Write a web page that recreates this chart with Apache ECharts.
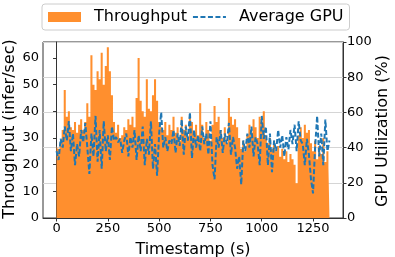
<!DOCTYPE html>
<html>
<head>
<meta charset="utf-8">
<script src="https://cdn.jsdelivr.net/npm/echarts@6/dist/echarts.min.js"></script>
<style>html,body{margin:0;padding:0;background:#fff;}#c{width:395px;height:257px;}</style>
</head>
<body>
<div id="c"></div>
<script>
const TIME_START = 0;
const TIME_STEP = 10;
const throughput = [27,26,28,33,48,38,40,34,33,36,32,35,37,33,36,43,38,61,50,48,55,52,62,50,57,64,55,46,36,32,35,30,31,34,33,37,35,38,34,45,60,44,40,38,52,41,40,46,52,44,36,34,33,36,31,35,33,38,32,34,29,38,33,35,30,38,36,32,35,31,43,35,30,36,33,29,35,42,36,38,33,30,34,28,45,38,35,37,34,30,26,29,25,31,35,32,37,34,30,38,36,40,31,28,30,26,29,25,27,23,26,22,25,21,24,22,20,13,31,34,30,35,32,33,28,25,29,22,27,24,30,21,25,19];
const gpu = [38,33,45,40,52,44,55,38,48,30,42,35,50,43,54,40,25,48,35,58,32,50,28,55,38,47,33,52,44,46,43,45,37,44,48,35,46,40,50,33,47,38,52,30,45,36,55,28,42,24,48,60,40,46,38,44,42,50,37,48,41,56,36,52,44,60,34,50,40,47,38,52,42,48,36,55,30,22,46,40,50,37,48,42,54,36,46,40,28,35,19,44,38,48,40,52,35,46,42,30,58,45,52,30,48,26,44,38,50,40,47,35,46,39,50,42,53,38,55,44,42,30,45,36,22,14,40,58,35,48,30,56,38,44];
const xTicks = [0,250,500,750,1000,1250];
const leftTicks = [0,10,20,30,40,50,60];
const leftTitle = 'Throughput (infer/sec)';
const rightTitle = 'GPU Utilization (%)';

const tpData = throughput.map((v,i)=>[TIME_START + i*TIME_STEP, v]);
const gpuData = gpu.map((v,i)=>[TIME_START + i*TIME_STEP, v]);

const FONT = 'DejaVu Sans';
const plain = v => String(v);
const chart = echarts.init(document.getElementById('c'), null, {renderer:'canvas'});
chart.setOption({
  animation:false,
  textStyle:{fontFamily:FONT,color:'#000'},
  legend:{
    left:42, top:4,
    padding:[5,6,5,6],
    itemWidth:33, itemHeight:10, itemGap:5,
    borderColor:'#cccccc', borderWidth:1, borderRadius:3,
    textStyle:{fontFamily:FONT,fontSize:16,color:'#000',padding:[0,0,0,8]},
    data:[{name:'Throughput',icon:'rect'},{name:'Average GPU',itemStyle:{opacity:0}}]
  },
  graphic:[
    {type:'text', x:10, y:129, rotation:Math.PI/2,
     style:{text:leftTitle, font:'16px "DejaVu Sans"', fill:'#000', align:'center', verticalAlign:'middle'}},
    {type:'text', x:383, y:131, rotation:Math.PI/2,
     style:{text:rightTitle, font:'16px "DejaVu Sans"', fill:'#000', align:'center', verticalAlign:'middle'}}
  ],
  grid:{left:43,right:52,top:42,bottom:39,outerBoundsMode:'none',containLabel:false,show:true,borderColor:'#333',borderWidth:1,backgroundColor:'transparent'},
  xAxis:{
    type:'value', min:-66, max:1396,
    name:'Timestamp (s)', nameLocation:'middle', nameGap:24,
    nameTextStyle:{fontFamily:FONT,fontSize:16,color:'#000'},
    axisLine:{show:true,lineStyle:{color:'#333'}},
    axisTick:{show:true,length:3.5,lineStyle:{color:'#333'},customValues:xTicks},
    axisLabel:{fontFamily:FONT,fontSize:13,color:'#000',margin:4,customValues:xTicks,formatter:plain},
    splitLine:{show:false}
  },
  yAxis:[{
    type:'value', min:0, max:66, position:'left',
    axisLine:{show:true,lineStyle:{color:'#333'}},
    axisTick:{show:true,length:3.5,lineStyle:{color:'#333'},customValues:leftTicks},
    axisLabel:{fontFamily:FONT,fontSize:13,color:'#000',margin:4,customValues:leftTicks,formatter:plain},
    splitLine:{show:false}
  },{
    type:'value', min:0, max:100, interval:20, position:'right',
    axisLine:{show:true,lineStyle:{color:'#333'}},
    axisTick:{show:true,length:3.5,lineStyle:{color:'#333'}},
    axisLabel:{fontFamily:FONT,fontSize:13,color:'#000',margin:4,formatter:plain},
    splitLine:{show:true,lineStyle:{color:'#d5d5d5',width:1}}
  }],
  series:[{
    name:'Throughput', type:'line', yAxisIndex:0, data:tpData,
    step:'middle', symbol:'none',
    lineStyle:{width:0,color:'#ff8f2e'},
    itemStyle:{color:'#ff8f2e'},
    areaStyle:{color:'#ff8f2e',opacity:1},
    z:1
  },{
    name:'Average GPU', type:'line', yAxisIndex:1, data:gpuData,
    symbol:'none',
    lineStyle:{width:2,color:'#1f77b4',type:[5,2.5]},
    itemStyle:{color:'#1f77b4'},
    z:3
  }]
});
</script>
</body>
</html>
